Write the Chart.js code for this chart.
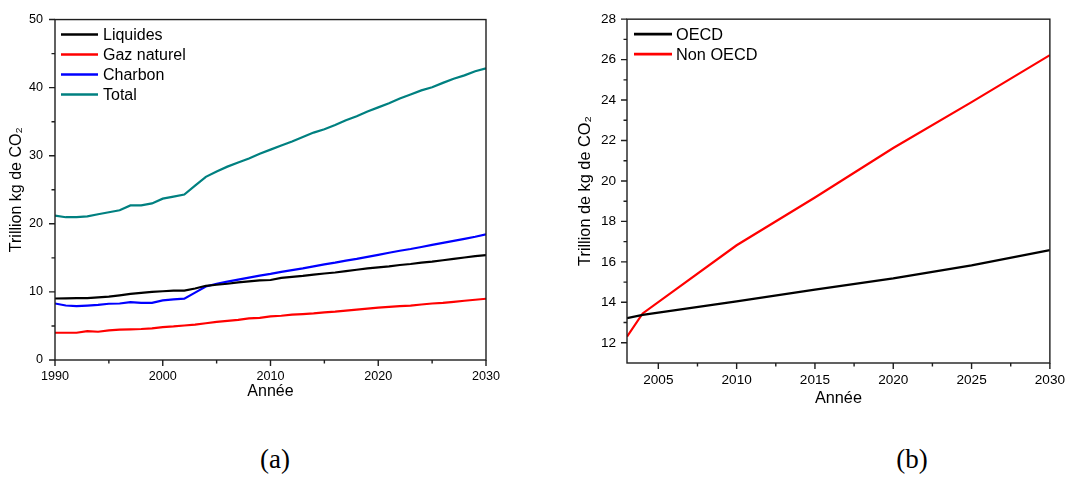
<!DOCTYPE html>
<html>
<head>
<meta charset="utf-8">
<script src="https://cdn.jsdelivr.net/npm/chart.js@4.4.1/dist/chart.umd.min.js"></script>
<style>
  html, body { margin: 0; padding: 0; background: #fff; }
  body { width: 1074px; height: 477px; position: relative; overflow: hidden; }
  canvas { position: absolute; }
  .cap { position: absolute; font-family: 'Liberation Serif', 'Times New Roman', serif; font-size: 27px; line-height: 27px; color: #000; transform: translateX(-50%); white-space: nowrap; }
</style>
</head>
<body>
<canvas id="ca" width="540" height="410" style="left:0;top:0;width:540px;height:410px"></canvas>
<canvas id="cb" width="514" height="420" style="left:560px;top:0;width:514px;height:420px"></canvas>
<div class="cap" style="left:275px;top:446px">(a)</div>
<div class="cap" style="left:912px;top:446px">(b)</div>
<script>
// ---------- Data: chart (a) ----------
const yearsA = [1990,1991,1992,1993,1994,1995,1996,1997,1998,1999,2000,2001,2002,2003,2004,2005,2006,2007,2008,2009,2010,
                2011,2012,2013,2014,2015,2016,2017,2018,2019,2020,2021,2022,2023,2024,2025,2026,2027,2028,2029,2030];
const liquides = [9.03,9.05,9.1,9.1,9.2,9.3,9.5,9.7,9.85,10.0,10.1,10.2,10.2,10.5,10.9,11.05,11.2,11.4,11.55,11.7,11.75,
                  12.05,12.2,12.35,12.55,12.7,12.85,13.05,13.25,13.45,13.6,13.75,13.95,14.1,14.3,14.45,14.65,14.85,15.05,15.25,15.4];
const gazNaturel = [4.0,4.0,4.0,4.25,4.15,4.35,4.45,4.5,4.55,4.65,4.83,4.93,5.07,5.2,5.4,5.6,5.75,5.9,6.1,6.2,6.4,
                    6.5,6.65,6.75,6.85,7.0,7.1,7.25,7.4,7.55,7.7,7.8,7.9,8.0,8.15,8.3,8.4,8.55,8.7,8.85,9.0];
const charbon = [8.3,8.0,7.9,8.0,8.1,8.26,8.3,8.5,8.4,8.4,8.75,8.9,9.0,9.9,10.8,11.2,11.5,11.8,12.1,12.4,12.65,
                 12.95,13.2,13.45,13.75,14.05,14.3,14.6,14.85,15.15,15.45,15.75,16.05,16.3,16.6,16.9,17.2,17.5,17.8,18.1,18.45];
const total = [21.2,20.97,20.97,21.1,21.4,21.7,22.0,22.7,22.7,23.0,23.7,24.0,24.3,25.6,26.9,27.7,28.4,29.0,29.6,30.3,30.9,
               31.5,32.1,32.75,33.4,33.9,34.5,35.2,35.8,36.5,37.1,37.7,38.4,39.0,39.6,40.05,40.7,41.3,41.8,42.4,42.85];
const xTicksA = [1990,2000,2010,2020,2030];
const xMinorA = [1995,2005,2015,2025];
const yTicksA = [0,10,20,30,40,50];
const yMinorA = [5,15,25,35,45];

// ---------- Data: chart (b) ----------
const yearsB = [2003,2004,2010,2015,2020,2025,2030];
const oecd = [13.22,13.38,14.05,14.63,15.18,15.83,16.58];
const nonOecd = [12.3,13.45,16.82,19.18,21.63,23.9,26.22];
const xTicksB = [2005,2010,2015,2020,2025,2030];
const xMinorB = [2007.5,2012.5,2017.5,2022.5,2027.5];
const yTicksB = [12,14,16,18,20,22,24,26,28];
const yMinorB = [13,15,17,19,21,23,25,27];

Chart.defaults.font.family = "'Liberation Sans', Arial, sans-serif";
Chart.defaults.color = '#000';

const pts = (xs, ys) => xs.map((x, i) => ({x, y: ys[i]}));

const framePlugin = {
  id: 'frame',
  afterDraw(chart, args, o) {
    const {ctx, chartArea: a, scales: {x, y}} = chart;
    ctx.save();
    ctx.strokeStyle = '#1e1e1e';
    ctx.lineWidth = 1.4;
    ctx.strokeRect(a.left, a.top, a.right - a.left, a.bottom - a.top);
    ctx.beginPath();
    o.xMajor.forEach(v => { const p = x.getPixelForValue(v); ctx.moveTo(p, a.bottom); ctx.lineTo(p, a.bottom + o.major); });
    o.xMinor.forEach(v => { const p = x.getPixelForValue(v); ctx.moveTo(p, a.bottom); ctx.lineTo(p, a.bottom + o.minor); });
    o.yMajor.forEach(v => { const p = y.getPixelForValue(v); ctx.moveTo(a.left, p); ctx.lineTo(a.left - o.major, p); });
    o.yMinor.forEach(v => { const p = y.getPixelForValue(v); ctx.moveTo(a.left, p); ctx.lineTo(a.left - o.minor, p); });
    ctx.stroke();
    // legend
    chart.data.datasets.forEach((ds, i) => {
      const yy = a.top + 15 + 20 * i;
      ctx.strokeStyle = ds.borderColor;
      ctx.lineWidth = 2.6;
      ctx.beginPath();
      ctx.moveTo(a.left + o.legX0, yy);
      ctx.lineTo(a.left + o.legX1, yy);
      ctx.stroke();
      ctx.fillStyle = '#000';
      ctx.font = o.legFont + "px 'Liberation Sans', Arial, sans-serif";
      ctx.textBaseline = 'middle';
      ctx.textAlign = 'left';
      ctx.fillText(ds.label, a.left + o.legTx, yy + 1);
    });
    ctx.restore();
  }
};

function lineDs(label, color, xs, ys) {
  return { label, data: pts(xs, ys), borderColor: color, backgroundColor: color,
           borderWidth: 2.2, pointRadius: 0, tension: 0, fill: false };
}

function makeChart(id, datasets, cfg) {
  return new Chart(document.getElementById(id), {
    type: 'line',
    data: { datasets },
    plugins: [framePlugin],
    options: {
      responsive: false,
      animation: false,
      events: [],
      layout: { padding: cfg.padding },
      plugins: {
        legend: { display: false },
        tooltip: { enabled: false },
        frame: cfg.frame
      },
      scales: {
        x: {
          type: 'linear', min: cfg.xMin, max: cfg.xMax,
          grid: { display: false, drawTicks: false }, border: { display: false },
          afterBuildTicks: s => { s.ticks = cfg.xTicks.map(v => ({value: v})); },
          afterFit: s => { s.height = cfg.xHeight; },
          ticks: { font: { size: cfg.tickSize }, padding: cfg.xTickPad, maxRotation: 0, autoSkip: false,
                   callback: v => String(v) },
          title: { display: true, text: 'Année', font: { size: cfg.titleSize },
                   padding: { top: 0, bottom: cfg.xTitlePad } }
        },
        y: {
          type: 'linear', min: cfg.yMin, max: cfg.yMax,
          grid: { display: false, drawTicks: false }, border: { display: false },
          afterBuildTicks: s => { s.ticks = cfg.yTicks.map(v => ({value: v})); },
          afterFit: s => { s.width = cfg.yWidth; },
          ticks: { font: { size: cfg.tickSize }, padding: cfg.yTickPad, autoSkip: false,
                   callback: v => String(v) },
          title: { display: true, text: cfg.yTitle, font: { size: cfg.titleSize },
                   padding: { top: cfg.yTitlePad, bottom: 0 } }
        }
      }
    }
  });
}

makeChart('ca', [
  lineDs('Liquides', '#000000', yearsA, liquides),
  lineDs('Gaz naturel', '#ff0000', yearsA, gazNaturel),
  lineDs('Charbon', '#0000ff', yearsA, charbon),
  lineDs('Total', '#008080', yearsA, total)
], {
  padding: { left: 0, top: 14, right: 54, bottom: 0 },
  xMin: 1990, xMax: 2030, yMin: 0, yMax: 50,
  xTicks: xTicksA, yTicks: yTicksA,
  xHeight: 50, yWidth: 55,
  tickSize: 12.6, titleSize: 16,
  xTickPad: 9, yTickPad: 12,
  xTitlePad: 8.4, yTitlePad: 7.4,
  yTitle: 'Trillion kg de CO₂',
  frame: { xMajor: xTicksA, xMinor: xMinorA, yMajor: yTicksA, yMinor: yMinorA,
           major: 6, minor: 3.5, legX0: 6, legX1: 43, legTx: 48, legFont: 16 }
});

makeChart('cb', [
  lineDs('OECD', '#000000', yearsB, oecd),
  lineDs('Non OECD', '#ff0000', yearsB, nonOecd)
], {
  padding: { left: 0, top: 19, right: 20, bottom: 0 },
  xMin: 2003, xMax: 2030, yMin: 11, yMax: 28,
  xTicks: xTicksB, yTicks: yTicksB,
  xHeight: 57, yWidth: 67,
  tickSize: 13.6, titleSize: 16.3,
  xTickPad: 9, yTickPad: 11,
  xTitlePad: 11.4, yTitlePad: 15.4,
  yTitle: 'Trillion de kg de CO₂',
  frame: { xMajor: xTicksB, xMinor: xMinorB, yMajor: yTicksB, yMinor: yMinorB,
           major: 6, minor: 3.5, legX0: 7, legX1: 45, legTx: 49, legFont: 16.3 }
});
</script>
</body>
</html>
